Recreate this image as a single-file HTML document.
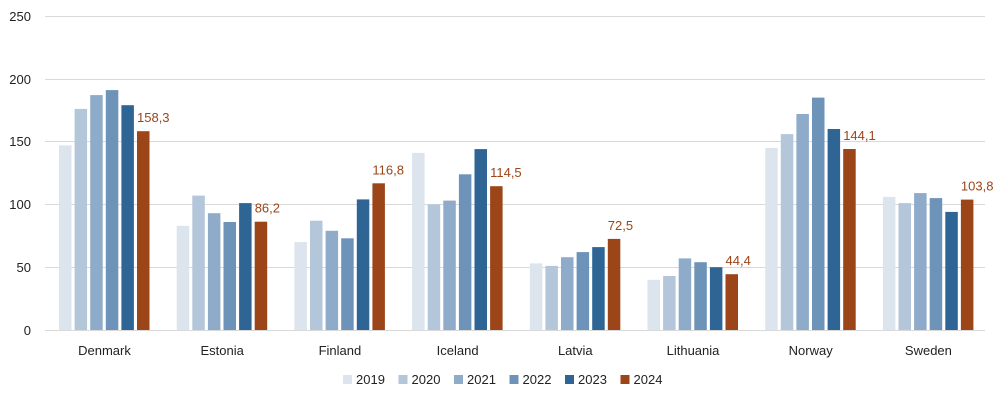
<!DOCTYPE html>
<html><head><meta charset="utf-8"><style>
body{margin:0;background:#fff}
svg text{font-family:"Liberation Sans",sans-serif;font-size:13px;fill:#222}
</style></head><body>
<svg width="1000" height="400" xmlns="http://www.w3.org/2000/svg">
<g stroke="#d9d9d9" stroke-width="1">
<line x1="45" x2="985" y1="16.5" y2="16.5"/><line x1="45" x2="985" y1="79.5" y2="79.5"/>
<line x1="45" x2="985" y1="141.5" y2="141.5"/><line x1="45" x2="985" y1="204.5" y2="204.5"/>
<line x1="45" x2="985" y1="267.5" y2="267.5"/><line x1="45" x2="985" y1="330.5" y2="330.5"/>
</g>
<g text-anchor="end">
<text x="31" y="21">250</text><text x="31" y="84">200</text><text x="31" y="146">150</text>
<text x="31" y="209">100</text><text x="31" y="272">50</text><text x="31" y="335">0</text>
</g>
<g id="bars"></g>
<g id="lg"></g>
</svg>
<script>
var d=[["Denmark",[147,176,187,191,179,158.3]],["Estonia",[83,107,93,86,101,86.2]],["Finland",[70,87,79,73,104,116.8]],["Iceland",[141,100,103,124,144,114.5]],["Latvia",[53,51,58,62,66,72.5]],["Lithuania",[40,43,57,54,50,44.4]],["Norway",[145,156,172,185,160,144.1]],["Sweden",[106,101,109,105,94,103.8]]];
var c=["#dce4ed","#b3c6da","#8eabc9","#6d93b9","#2e6595","#9b4519"];
var s="";
d.forEach(function(g,k){var cx=104.5+k*117.7;
g[1].forEach(function(v,i){var x=cx-45.5+i*15.6,h=v*1.256,y=330-h;
s+='<rect x="'+x.toFixed(1)+'" y="'+y.toFixed(1)+'" width="12.5" height="'+h.toFixed(1)+'" fill="'+c[i]+'"/>';
if(i==5)s+='<text x="'+x.toFixed(1)+'" y="'+(y-9).toFixed(1)+'" style="fill:#9b4519">'+String(v).replace('.',',')+'</text>';});
s+='<text x="'+cx+'" y="355" text-anchor="middle">'+g[0]+'</text>';});
document.getElementById("bars").innerHTML=s;
var l="";["2019","2020","2021","2022","2023","2024"].forEach(function(t,i){var x=343+i*55.5;
l+='<rect x="'+x+'" y="375" width="9" height="9" fill="'+c[i]+'"/><text x="'+(x+13)+'" y="384">'+t+'</text>';});
document.getElementById("lg").innerHTML=l;
</script>
</body></html>
